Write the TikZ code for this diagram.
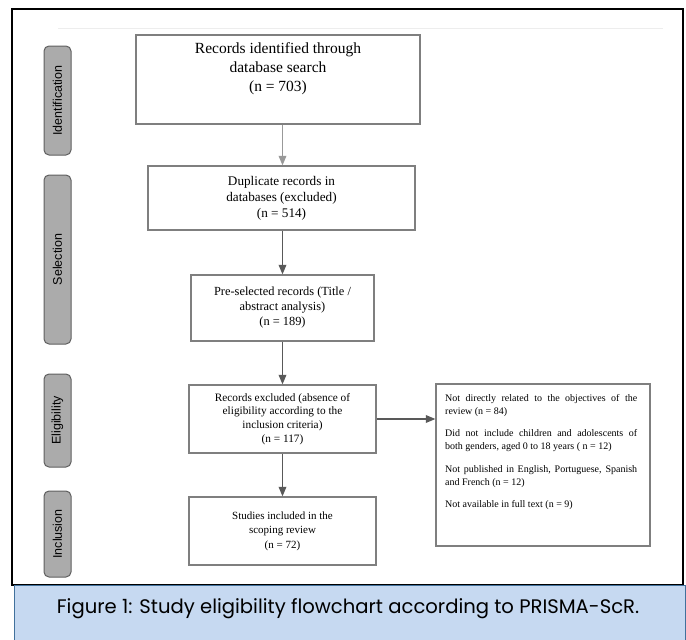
\documentclass[tikz,border=0pt]{standalone}
\usepackage{fontspec}
\setmainfont{Liberation Serif}
\setsansfont{Liberation Sans}
\newfontfamily\captionfont{Poppins}
\usetikzlibrary{arrows}

\definecolor{boxgrey}{HTML}{7F7F7F}
\definecolor{tabfill}{HTML}{ABABAB}
\definecolor{tabedge}{HTML}{5F5F5F}
\definecolor{capfill}{HTML}{C6D9F1}
\definecolor{capedge}{HTML}{41719C}

\begin{document}
\begin{tikzpicture}[x=1pt,y=-1pt,
		flowbox/.style={draw=boxgrey,line width=1.4pt,inner sep=0pt,align=center},
		tab/.style={draw=tabedge,fill=tabfill,line width=1pt,rounded corners=5pt,inner sep=0pt,
			minimum height=27pt,rotate=90,font=\sffamily\fontsize{12.5}{14}\selectfont},
		arr/.style={->,>=triangle 45,line width=1.2pt,draw=black!65}]
		\useasboundingbox (0,0) rectangle (686,640);
		% frame and caption
		\draw[line width=1.5pt] (12,9) rectangle (683,585);
		\draw[black!7,line width=0.8pt] (58,28) -- (663,28);
		\draw[draw=capedge,fill=capfill,line width=1pt] (14,585) rectangle (685,643);
		\node[font=\captionfont\fontsize{19.6}{22}\selectfont] (caption) at (348,609) {Figure 1: Study eligibility flowchart according to PRISMA-ScR.};
		% stage tabs
		\node[tab,minimum width=109pt] (ident) at (57.5,100.5) {Identification};
		\node[tab,minimum width=169pt] (select) at (57.5,259.5) {Selection};
		\node[tab,minimum width=93pt] (elig) at (57.5,420.5) {Eligibility};
		\node[tab,minimum width=86pt] (incl) at (57.5,534) {Inclusion};
		% flow boxes
		\node[flowbox,minimum width=284pt,minimum height=89pt] (found) at (278,79.5) {};
		\node[align=center,font=\fontsize{15.5}{19}\selectfont] (foundtxt) at (278,69) {Records identified through\\database search\\(n = 703)};
		\node[flowbox,minimum width=267pt,minimum height=64pt,font=\fontsize{13.2}{16}\selectfont] (dupl) at (281.5,198) {Duplicate records in\\databases (excluded)\\(n = 514)};
		\node[flowbox,minimum width=183pt,minimum height=66pt,font=\fontsize{12.4}{15}\selectfont] (presel) at (282.5,308) {Pre-selected records (Title /\\abstract analysis)\\(n = 189)};
		\node[flowbox,minimum width=187pt,minimum height=68pt,font=\fontsize{11.3}{13.7}\selectfont] (excl) at (282.5,419) {Records excluded (absence of\\eligibility according to the\\inclusion criteria)\\(n = 117)};
		\node[flowbox,minimum width=187pt,minimum height=68pt,font=\fontsize{11}{14.5}\selectfont] (studies) at (282.5,531) {Studies included in the\\scoping review\\(n = 72)};
		\node[flowbox,minimum width=214pt,minimum height=162pt] (reasons) at (543,465) {};
		\node[anchor=north west,inner sep=0pt,text width=192pt,align=justify,
			font=\fontsize{10}{13}\selectfont] (reasontxt) at (445,394) {\hyphenpenalty=10000
			Not directly related to the objectives of the\linebreak review (n = 84)\par\vspace{9.5pt}
			Did not include children and adolescents of\linebreak both genders, aged 0 to 18 years ( n = 12)\par\vspace{9.5pt}
			Not published in English, Portuguese, Spanish\linebreak and French (n = 12)\par\vspace{9.5pt}
			Not available in full text (n = 9)};
		% connectors
		\draw[arr,draw=black!40] (found.south -| excl) -- (dupl.north -| excl);
		\draw[arr] (dupl.south -| excl) -- (presel.north);
		\draw[arr] (presel) -- (excl);
		\draw[arr] (excl) -- (studies);
		\draw[arr] (excl.east) -- (reasons.west |- excl.east);
\end{tikzpicture}
\end{document}
